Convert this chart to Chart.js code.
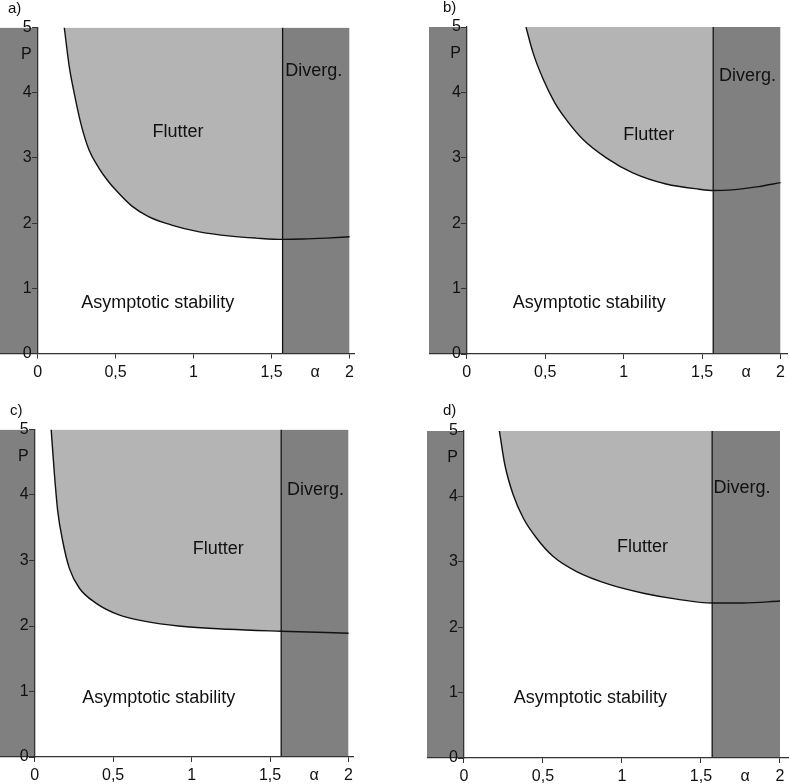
<!DOCTYPE html>
<html>
<head>
<meta charset="utf-8">
<script src="https://cdn.jsdelivr.net/npm/chart.js@4.4.1/dist/chart.umd.min.js"></script>
<style>
  html, body { margin: 0; padding: 0; background: #fff; }
  body { width: 789px; height: 784px; position: relative; overflow: hidden; }
  canvas { position: absolute; }
</style>
</head>
<body>
<canvas id="ca"></canvas>
<canvas id="cb"></canvas>
<canvas id="cc"></canvas>
<canvas id="cd"></canvas>
<script>
// ---------------- data ----------------
const DIVERGENCE_ALPHA = Math.PI / 2;
const ALPHA_MAX = 2;
const P_MAX = 5;

const xTickValues = [0, 0.5, 1, 1.5, 1.78, 2];
const xTickLabels = ['0', '0,5', '1', '1,5', 'α', '2'];
const yTickValues = [0, 1, 2, 3, 4, 4.59, 5];
const yTickLabels = ['0', '1', '2', '3', '4', 'P', '5'];

// boundary curves (alpha, P)
const alphaA = [0.171, 0.203, 0.235, 0.277, 0.33, 0.394, 0.45, 0.5, 0.605, 0.711, 0.859, 1.029, 1.24, 1.40, 1.5708, 1.70, 1.85, 2.0];
const pA     = [5.0,   4.40,  3.99,  3.53,  3.12, 2.84,  2.65, 2.51, 2.26, 2.10,  1.97,  1.87,  1.80, 1.77, 1.75,   1.755, 1.77, 1.79];

const alphaB = [0.377, 0.423, 0.487, 0.561, 0.635, 0.741, 0.889, 1.058, 1.27, 1.48, 1.5708, 1.69, 1.86, 2.0];
const pB     = [5.0,   4.6,   4.2,   3.84,  3.58,  3.28,  3.0,   2.77,  2.60, 2.52, 2.50,   2.51, 2.56, 2.62];

const alphaC = [0.105, 0.126, 0.147, 0.179, 0.221, 0.284, 0.39, 0.537, 0.706, 0.916, 1.232, 1.5708, 2.0];
const pC     = [5.0,   4.31,  3.75,  3.29,  2.88,  2.58,  2.35, 2.17,  2.07,  2.0,   1.95,  1.92,   1.89];

const alphaD = [0.224, 0.259, 0.312, 0.375, 0.46, 0.565, 0.713, 0.924, 1.135, 1.346, 1.5708, 1.768, 2.0];
const pD     = [5.0,   4.48,  4.02,  3.67,  3.36, 3.08,  2.85,  2.65,  2.52,  2.43,  2.37,   2.37,  2.40];

const regionTextA = [['Flutter', 0.90, 3.40], ['Diverg.', 1.77, 4.34], ['Asymptotic stability', 0.77, 0.78]];
const regionTextB = [['Flutter', 1.16, 3.35], ['Diverg.', 1.79, 4.25], ['Asymptotic stability', 0.78, 0.78]];
const regionTextC = [['Flutter', 1.17, 3.18], ['Diverg.', 1.79, 4.08], ['Asymptotic stability', 0.79, 0.90]];
const regionTextD = [['Flutter', 1.13, 3.22], ['Diverg.', 1.76, 4.13], ['Asymptotic stability', 0.80, 0.92]];

const panelLetters = ['a)', 'b)', 'c)', 'd)'];

// ---------------- drawing ----------------
const DARK = '#808080';
const LIGHT = '#b4b4b4';
const INK = '#111111';
const FONT = '"Liberation Sans", Arial, Helvetica, sans-serif';

const textPlugin = {
  id: 'regionText',
  afterDatasetsDraw(chart, args, opts) {
    const { ctx } = chart;
    const xs = chart.scales.x, ys = chart.scales.y;
    ctx.save();
    ctx.fillStyle = INK;
    ctx.textAlign = 'center';
    ctx.textBaseline = 'middle';
    ctx.font = '18px ' + FONT;
    opts.labels.forEach(l => ctx.fillText(l[0], xs.getPixelForValue(l[1]), ys.getPixelForValue(l[2])));
    ctx.textAlign = 'left';
    ctx.font = '15px ' + FONT;
    ctx.fillText(opts.letter, opts.letterX, opts.letterY);
    ctx.restore();
  }
};

function pts(a, p) { return a.map((v, i) => ({ x: v, y: p[i] })); }

function makePanel(id, box, alphas, ps, texts, letter) {
  const cv = document.getElementById(id);
  cv.style.left = box.left + 'px';
  cv.style.top = box.top + 'px';
  cv.style.width = box.w + 'px';
  cv.style.height = box.h + 'px';
  cv.width = box.w; cv.height = box.h;

  const curve = pts(alphas, ps);
  const flutter = curve.filter(q => q.x <= DIVERGENCE_ALPHA + 1e-3);
  // tick labels sit ~6 px left of the alpha = 0 axis line
  const labelAxisX = -6 / ((box.w) / (box.xmax - box.xmin));

  const lineBase = { showLine: true, pointRadius: 0, pointHoverRadius: 0, borderWidth: 0 };
  new Chart(cv, {
    type: 'scatter',
    data: {
      datasets: [
        Object.assign({}, lineBase, { data: curve, borderColor: INK, borderWidth: 1.4, fill: false, cubicInterpolationMode: 'monotone' }),
        Object.assign({}, lineBase, { data: [{ x: DIVERGENCE_ALPHA, y: 0 }, { x: DIVERGENCE_ALPHA, y: P_MAX }], borderColor: INK, borderWidth: 1.3, fill: false }),
        Object.assign({}, lineBase, { data: flutter, borderColor: 'rgba(0,0,0,0)', backgroundColor: LIGHT, fill: 'end', cubicInterpolationMode: 'monotone' }),
        Object.assign({}, lineBase, { data: [{ x: DIVERGENCE_ALPHA, y: P_MAX }, { x: ALPHA_MAX, y: P_MAX }], borderColor: 'rgba(0,0,0,0)', backgroundColor: DARK, fill: 'origin' }),
        Object.assign({}, lineBase, { data: [{ x: -1, y: P_MAX }, { x: 0, y: P_MAX }], borderColor: 'rgba(0,0,0,0)', backgroundColor: DARK, fill: 'origin' })
      ]
    },
    options: {
      responsive: false,
      animation: false,
      devicePixelRatio: 1,
      layout: { padding: { top: box.padTop, left: 0, right: 0, bottom: 0 } },
      plugins: {
        legend: { display: false },
        tooltip: { enabled: false },
        regionText: { labels: texts, letter: letter, letterX: box.lx, letterY: box.ly }
      },
      scales: {
        x: {
          type: 'linear',
          min: box.xmin, max: box.xmax,
          afterBuildTicks: s => { s.ticks = xTickValues.map(v => ({ value: v })); },
          afterFit: s => { s.height = box.axisH; },
          ticks: {
            z: 2, autoSkip: false, maxRotation: 0, padding: 4,
            color: INK, font: { family: FONT, size: 16 },
            callback: (v, i) => xTickLabels[i]
          },
          grid: {
            z: 1, drawOnChartArea: false, drawTicks: true, tickLength: 5, tickWidth: 1,
            tickColor: c => (c.tick && xTickLabels[c.index] === 'α') ? 'rgba(0,0,0,0)' : '#333'
          },
          border: { z: 1, display: true, color: '#333', width: 1.3 }
        },
        y: {
          type: 'linear',
          position: { x: 0 },
          min: 0, max: P_MAX,
          afterBuildTicks: s => { s.ticks = yTickValues.map(v => ({ value: v })); },
          ticks: { display: false, autoSkip: false },
          grid: {
            z: 1, drawOnChartArea: false, drawTicks: true, tickLength: 5, tickWidth: 1,
            tickColor: c => (c.tick && yTickLabels[c.index] === 'P') ? 'rgba(0,0,0,0)' : '#333'
          },
          border: { z: 1, display: true, color: '#333', width: 1.3 }
        },
        yLabels: {
          type: 'linear',
          position: { x: labelAxisX },
          min: 0, max: P_MAX,
          afterBuildTicks: s => { s.ticks = yTickValues.map(v => ({ value: v })); },
          ticks: {
            z: 2, autoSkip: false, padding: 0,
            color: INK, font: { family: FONT, size: 16 },
            callback: (v, i) => yTickLabels[i]
          },
          grid: { display: false, drawTicks: false },
          border: { display: false }
        }
      }
    },
    plugins: [textPlugin]
  });
}

makePanel('ca', { left: 0,   top: 0,   w: 358, h: 395, padTop: 27.5, axisH: 41.5, xmin: -0.241, xmax: 2.032, lx: 8,  ly: 9 },  alphaA, pA, regionTextA, panelLetters[0]);
makePanel('cb', { left: 429, top: 0,   w: 360, h: 395, padTop: 27,   axisH: 41,   xmin: -0.241, xmax: 2.044, lx: 14, ly: 8 },  alphaB, pB, regionTextB, panelLetters[1]);
makePanel('cc', { left: 0,   top: 400, w: 357, h: 384, padTop: 29.5, axisH: 27,   xmin: -0.221, xmax: 2.034, lx: 10, ly: 11 }, alphaC, pC, regionTextC, panelLetters[2]);
makePanel('cd', { left: 427, top: 400, w: 362, h: 384, padTop: 31,   axisH: 26,   xmin: -0.234, xmax: 2.057, lx: 16, ly: 11 }, alphaD, pD, regionTextD, panelLetters[3]);
</script>
</body>
</html>
